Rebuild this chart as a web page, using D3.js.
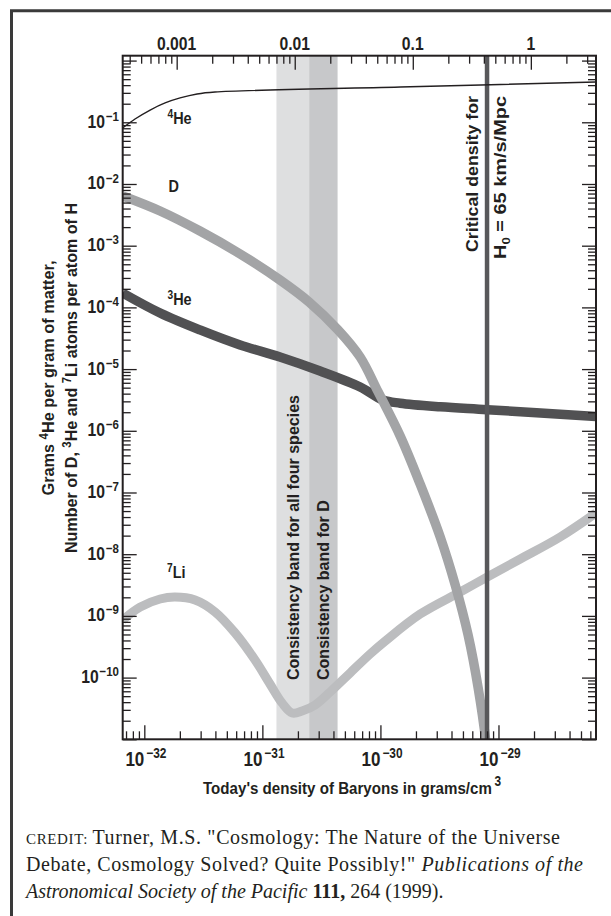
<!DOCTYPE html>
<html>
<head>
<meta charset="utf-8">
<script src="https://cdn.jsdelivr.net/npm/d3@7"></script>
<style>
  body { margin: 0; background: #fff; }
  svg text { font-family: "Liberation Sans", Arial, sans-serif; font-weight: bold; fill: #231f20; }
  .credit { font-family: "Liberation Serif", "DejaVu Serif", serif; font-weight: normal; }
</style>
</head>
<body>
<div id="chart"></div>
<script>
// light element abundances vs today's baryon density (Turner 1999)
// [density g/cm3, abundance]
const he4 = [[6.56e-33, 0.081], [8.34e-33, 0.113], [1.12e-32, 0.158], [1.50e-32, 0.206], [2.01e-32, 0.248],
             [2.80e-32, 0.288], [3.97e-32, 0.31], [1.47e-30, 0.373], [6.7e-29, 0.45]];
const deuterium = [[6.56e-33, 6.40e-3], [1.36e-32, 3.65e-3], [2.96e-32, 1.73e-3], [6.48e-32, 7.35e-4],
                   [1.41e-31, 2.78e-4], [2.49e-31, 1.22e-4], [4.38e-31, 4.31e-5], [6.73e-31, 1.57e-5],
                   [9.57e-31, 4.26e-6], [1.47e-30, 8.24e-7], [2.17e-30, 1.37e-7], [3.21e-30, 1.90e-8],
                   [4.30e-30, 3.17e-9], [5.53e-30, 4.9e-10], [6.73e-30, 6.78e-11], [7.87e-30, 8.1e-12], [8.17e-30, 3e-12]];
const he3 = [[6.56e-33, 1.71e-4], [1.36e-32, 8.11e-5], [2.96e-32, 4.31e-5], [6.48e-32, 2.46e-5],
             [1.41e-31, 1.57e-5], [3.08e-31, 9.3e-6], [6.73e-31, 5.13e-6], [1.05e-30, 3.16e-6],
             [1.47e-30, 2.80e-6], [3.21e-30, 2.45e-6], [8.03e-30, 2.2e-6], [6.7e-29, 1.70e-6]];
const li7 = [[6.56e-33, 8.59e-10], [9.2e-33, 1.39e-9], [1.36e-32, 1.88e-9], [1.82e-32, 2.02e-9],
             [2.69e-32, 1.81e-9], [3.97e-32, 1.16e-9], [5.88e-32, 5.28e-10], [8.67e-32, 1.93e-10],
             [1.16e-31, 7.87e-11], [1.47e-31, 3.87e-11], [1.79e-31, 2.67e-11], [2.17e-31, 2.87e-11],
             [2.80e-31, 3.60e-11], [3.75e-31, 5.85e-11], [5.54e-31, 1.19e-10], [8.18e-31, 2.41e-10],
             [1.10e-30, 3.92e-10], [2.17e-30, 1.07e-9], [4.74e-30, 2.44e-9], [8.03e-30, 4.26e-9],
             [1.53e-29, 8.35e-9], [3.33e-29, 1.90e-8], [6.7e-29, 4.66e-8]];

// consistency bands in Omega_B h^2 (top axis)
const bandAll = [0.007, 0.023];
const bandD = [0.0133, 0.023];
const critDensity = 8.0e-30;      // H0 = 65 km/s/Mpc
const rhoCritH2 = 1.88e-29;       // g/cm3 for Omega_B h^2 = 1

const xMajor = [1e-32, 1e-31, 1e-30, 1e-29];
const xExp = ["\u221232", "\u221231", "\u221230", "\u221229"];
const topMajor = [0.001, 0.01, 0.1, 1];
const topLabels = ["0.001", "0.01", "0.1", "1"];
const yMajor = [1e-1, 1e-2, 1e-3, 1e-4, 1e-5, 1e-6, 1e-7, 1e-8, 1e-9, 1e-10];
const yExp = ["\u22121", "\u22122", "\u22123", "\u22124", "\u22125", "\u22126", "\u22127", "\u22128", "\u22129", "\u221210"];

let width = 611, height = 916;
let plot = {left: 122.7, right: 596, top: 55.7, bottom: 739.3};
let sx = 0.85;   // squeeze to mimic a condensed face

let svg = d3.select("#chart").append("svg")
    .attr("width", width)
    .attr("height", height);

let x = d3.scaleLog().domain([6.56e-33, 6.7e-29]).range([plot.left, plot.right]);
let xTop = d3.scaleLog().domain(x.domain().map(d => d / rhoCritH2)).range([plot.left, plot.right]);
let y = d3.scaleLog().domain([1e-11, 1.2]).range([plot.bottom, plot.top]);

// outer frame
svg.append("path")
    .attr("d", `M11.5,${height} V10.8 H${width}`)
    .attr("fill", "none")
    .attr("stroke", "#3a3a3a")
    .attr("stroke-width", 3);

svg.append("clipPath").attr("id", "clip")
    .append("rect")
    .attr("x", plot.left).attr("y", plot.top)
    .attr("width", plot.right - plot.left).attr("height", plot.bottom - plot.top);

let g = svg.append("g").attr("clip-path", "url(#clip)");

// consistency bands
g.append("rect")
    .attr("x", xTop(bandAll[0])).attr("y", plot.top)
    .attr("width", xTop(bandAll[1]) - xTop(bandAll[0]))
    .attr("height", plot.bottom - plot.top)
    .attr("fill", "#dedfe0");
g.append("rect")
    .attr("x", xTop(bandD[0])).attr("y", plot.top)
    .attr("width", xTop(bandD[1]) - xTop(bandD[0]))
    .attr("height", plot.bottom - plot.top)
    .attr("fill", "#c7c8ca");

let line = d3.line()
    .x(d => x(d[0]))
    .y(d => y(d[1]))
    .curve(d3.curveCatmullRom.alpha(0.5));

g.append("path").datum(li7).attr("d", line)
    .attr("fill", "none").attr("stroke", "#bcbdbf").attr("stroke-width", 9);
g.append("path").datum(he3).attr("d", line)
    .attr("fill", "none").attr("stroke", "#515153").attr("stroke-width", 9.5);
g.append("path").datum(deuterium).attr("d", line)
    .attr("fill", "none").attr("stroke", "#a3a4a6").attr("stroke-width", 9.5);

// critical density line
g.append("line")
    .attr("x1", x(critDensity)).attr("x2", x(critDensity))
    .attr("y1", plot.top).attr("y2", plot.bottom)
    .attr("stroke", "#58585a").attr("stroke-width", 4.5);

g.append("path").datum(he4).attr("d", line)
    .attr("fill", "none").attr("stroke", "#231f20").attr("stroke-width", 1.4);

// axes: ticks point inward
let isMajor = v => Math.abs(Math.log10(v) - Math.round(Math.log10(v))) < 1e-6;
let xMinor = x.ticks(20).filter(v => !isMajor(v));
let topMinor = xTop.ticks(20).filter(v => !isMajor(v));
let yMinor = y.ticks(40).filter(v => !isMajor(v));
let yMajorAll = y.ticks(40).filter(isMajor);

function styleAxis(sel) {
    sel.select(".domain").remove();
    sel.selectAll(".tick line").attr("stroke", "#231f20").attr("stroke-width", 1.3);
}

svg.append("g").attr("transform", `translate(0,${plot.bottom})`)
    .call(d3.axisBottom(x).tickValues(xMinor).tickSize(-8).tickFormat("")).call(styleAxis);
svg.append("g").attr("transform", `translate(0,${plot.bottom})`)
    .call(d3.axisBottom(x).tickValues(xMajor).tickSize(-14).tickFormat("")).call(styleAxis);
svg.append("g").attr("transform", `translate(0,${plot.top})`)
    .call(d3.axisTop(xTop).tickValues(topMinor).tickSize(-8).tickFormat("")).call(styleAxis);
svg.append("g").attr("transform", `translate(0,${plot.top})`)
    .call(d3.axisTop(xTop).tickValues(topMajor).tickSize(-14).tickFormat("")).call(styleAxis);
[[d3.axisLeft, plot.left], [d3.axisRight, plot.right]].forEach(([ax, pos]) => {
    svg.append("g").attr("transform", `translate(${pos},0)`)
        .call(ax(y).tickValues(yMinor).tickSize(-8).tickFormat("")).call(styleAxis);
    svg.append("g").attr("transform", `translate(${pos},0)`)
        .call(ax(y).tickValues(yMajorAll).tickSize(-14).tickFormat("")).call(styleAxis);
});

svg.append("rect")
    .attr("x", plot.left).attr("y", plot.top)
    .attr("width", plot.right - plot.left).attr("height", plot.bottom - plot.top)
    .attr("fill", "none").attr("stroke", "#231f20").attr("stroke-width", 2);

// tick labels
svg.selectAll(".toplab").data(topMajor).join("text")
    .attr("class", "toplab")
    .attr("transform", d => `translate(${xTop(d)},50) scale(${sx},1)`)
    .attr("text-anchor", "middle")
    .style("font-size", "18.5px")
    .text((d, i) => topLabels[i]);

let bl = svg.selectAll(".botlab").data(xMajor).join("g").attr("class", "botlab");
bl.append("text")
    .attr("transform", d => `translate(${x(d)},765.5) scale(${sx},1)`)
    .attr("text-anchor", "end")
    .style("font-size", "20px")
    .text("10");
bl.append("text")
    .attr("transform", d => `translate(${x(d) + 2},758) scale(${sx},1)`)
    .style("font-size", "14px")
    .text((d, i) => xExp[i]);

let yl = svg.selectAll(".ylab").data(yMajor).join("text")
    .attr("class", "ylab")
    .attr("transform", d => `translate(119,${y(d) + 5.5}) scale(${sx},1)`)
    .attr("text-anchor", "end")
    .style("font-size", "18.5px");
yl.append("tspan").text("10");
yl.append("tspan").attr("dx", 1).attr("dy", -7).style("font-size", "13.5px").text((d, i) => yExp[i]);

// series labels
function supLabel(px, py, sup, main) {
    let t = svg.append("text")
        .attr("transform", `translate(${px},${py}) scale(${sx},1)`)
        .style("font-size", "17px");
    if (sup) t.append("tspan").attr("dy", -6).style("font-size", "12px").text(sup);
    t.append("tspan").attr("dy", sup ? 6 : 0).text(main);
}
supLabel(167.5, 124, "4", "He");
supLabel(168.5, 192, null, "D");
supLabel(167.5, 305, "3", "He");
supLabel(167, 578, "7", "Li");

// rotated labels
function vText(px, py, anchor, len, size) {
    let t = svg.append("text")
        .attr("transform", `translate(${px},${py}) rotate(-90)`)
        .attr("text-anchor", anchor)
        .style("font-size", size);
    if (len) t.attr("textLength", len).attr("lengthAdjust", "spacingAndGlyphs");
    return t;
}
let bandLong = vText(299, 680, "start", null, "16.5px").text("Consistency band for all four species");
let bandShort = vText(329, 680, "start", null, "16.5px").text("Consistency band for D");
// same squeeze for both band labels
let k = 285 / bandLong.node().getComputedTextLength();
bandShort.attr("textLength", bandShort.node().getComputedTextLength() * k).attr("lengthAdjust", "spacingAndGlyphs");
bandLong.attr("textLength", 285).attr("lengthAdjust", "spacingAndGlyphs");

vText(477.5, 96, "end", 156, "16.5px").text("Critical density for");
let h0 = vText(506, 96, "end", 163, "16.5px");
h0.append("tspan").text("H");
h0.append("tspan").attr("dy", 4).style("font-size", "11px").text("0");
h0.append("tspan").attr("dy", -4).text(" = 65 km/s/Mpc");

// y-axis title
let yt1 = vText(54, 378, "middle", 235, "17px");
yt1.append("tspan").text("Grams ");
yt1.append("tspan").attr("dy", -6).style("font-size", "12px").text("4");
yt1.append("tspan").attr("dy", 6).text("He per gram of matter,");
let yt2 = vText(77, 378, "middle", 350, "17px");
yt2.append("tspan").text("Number of D, ");
yt2.append("tspan").attr("dy", -6).style("font-size", "12px").text("3");
yt2.append("tspan").attr("dy", 6).text("He and ");
yt2.append("tspan").attr("dy", -6).style("font-size", "12px").text("7");
yt2.append("tspan").attr("dy", 6).text("Li atoms per atom of H");

// x-axis title: squeezed with a transform, superscript placed after it
let xt = svg.append("text")
    .style("font-size", "17px")
    .text("Today's density of Baryons in grams/cm");
let xs = 289 / xt.node().getComputedTextLength();
xt.attr("transform", `translate(203,794) scale(${xs},1)`);
svg.append("text")
    .attr("transform", `translate(${203 + 289 + 2.5},786) scale(${sx},1)`)
    .style("font-size", "14px")
    .text("3");

// credit
let c1 = svg.append("text").attr("class", "credit").attr("x", 26).attr("y", 844)
    .attr("textLength", 534).attr("lengthAdjust", "spacing").style("font-size", "20px");
c1.append("tspan").style("font-size", "15px").text("CREDIT: ");
c1.append("tspan").text("Turner, M.S. \"Cosmology: The Nature of the Universe");
let c2 = svg.append("text").attr("class", "credit").attr("x", 26).attr("y", 871)
    .attr("textLength", 557).attr("lengthAdjust", "spacing").style("font-size", "20px");
c2.append("tspan").text("Debate, Cosmology Solved? Quite Possibly!\" ");
c2.append("tspan").style("font-style", "italic").text("Publications of the");
let c3 = svg.append("text").attr("class", "credit").attr("x", 26).attr("y", 898)
    .style("font-size", "20px");
c3.append("tspan").style("font-style", "italic").text("Astronomical Society of the Pacific");
c3.append("tspan").style("font-weight", "bold").text(" 111,");
c3.append("tspan").text(" 264 (1999).");
</script>
</body>
</html>
